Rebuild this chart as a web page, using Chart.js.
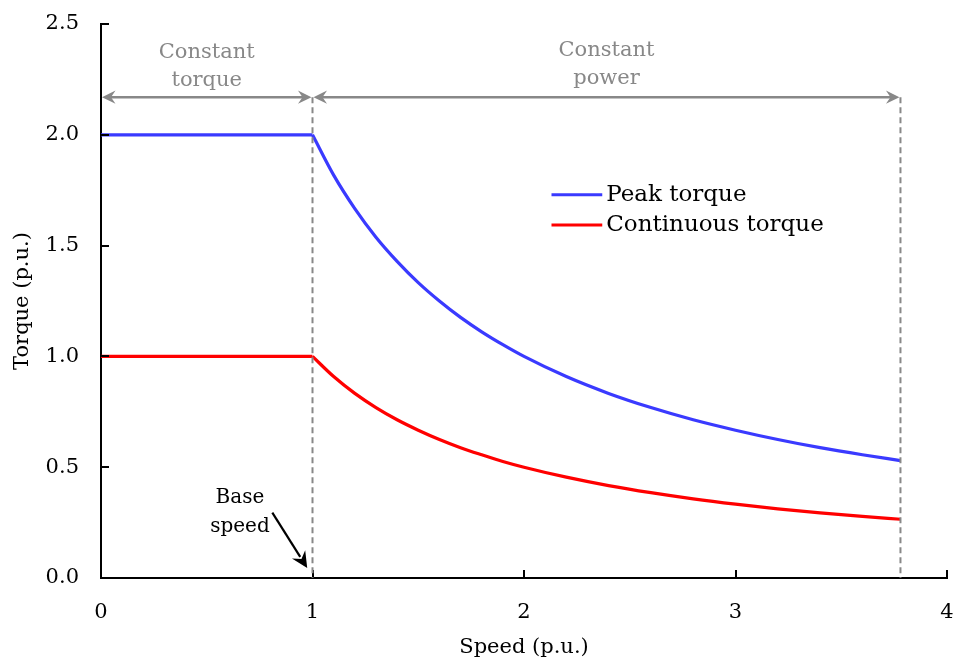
<!DOCTYPE html>
<html>
<head>
<meta charset="utf-8">
<script src="https://cdn.jsdelivr.net/npm/chart.js@4"></script>
<style>
  html, body { margin: 0; padding: 0; background: #fff; }
  #wrap { width: 953px; height: 664px; }
</style>
</head>
<body>
<div id="wrap"><canvas id="c"></canvas></div>
<script>
// values
// constant torque region
const flatSpeed = [0, 1.0]
const peakFlat = [2.0, 2.0]
const contFlat = [1.0, 1.0]
// constant power region
const curveSpeed = [1.0, 1.1, 1.2, 1.3, 1.4, 1.5, 1.6, 1.7, 1.8, 1.9, 2.0, 2.2, 2.4, 2.6, 2.8, 3.0, 3.2, 3.4, 3.6, 3.78]
const peakCurve = [2.0, 1.818, 1.667, 1.538, 1.429, 1.333, 1.25, 1.176, 1.111, 1.053, 1.0, 0.909, 0.833, 0.769, 0.714, 0.667, 0.625, 0.588, 0.556, 0.53]
const contCurve = [1.0, 0.909, 0.833, 0.769, 0.714, 0.667, 0.625, 0.588, 0.556, 0.526, 0.5, 0.455, 0.417, 0.385, 0.357, 0.333, 0.312, 0.294, 0.278, 0.265]
const seriesNames = ['Peak torque', 'Continuous torque']
const seriesColors = ['#3a3aff', '#ff0000']
const xTicks = [0, 1, 2, 3, 4]
const yTicks = [0, 0.5, 1.0, 1.5, 2.0, 2.5]
const baseSpeed = 1.0
const maxSpeed = 3.78

const FONT = "'DejaVu Serif', serif"
const GREY = '#888888'

function toPoints(xs, ys) {
    return xs.map((v, i) => ({x: v, y: ys[i]}))
}

function lineSet(label, color, xs, ys) {
    return {
        label: label,
        data: toPoints(xs, ys),
        borderColor: color,
        borderWidth: 3.2,
        pointRadius: 0,
        cubicInterpolationMode: 'monotone',
        fill: false,
    }
}

function arrowHead(ctx, x1, y1, x2, y2, size) {
    const a = Math.atan2(y2 - y1, x2 - x1)
    ctx.beginPath()
    ctx.moveTo(x2, y2)
    ctx.lineTo(x2 - size * Math.cos(a - 0.45), y2 - size * Math.sin(a - 0.45))
    ctx.lineTo(x2 - size * 0.6 * Math.cos(a), y2 - size * 0.6 * Math.sin(a))
    ctx.lineTo(x2 - size * Math.cos(a + 0.45), y2 - size * Math.sin(a + 0.45))
    ctx.closePath()
    ctx.fill()
}

const annotate = {
    id: 'annotate',
    afterDraw(chart) {
        const {ctx, scales: {x, y}} = chart
        ctx.save()

        // inward ticks
        ctx.strokeStyle = '#000'
        ctx.lineWidth = 2
        xTicks.forEach(v => {
            const px = Math.round(x.getPixelForValue(v))
            ctx.beginPath()
            ctx.moveTo(px, y.bottom)
            ctx.lineTo(px, y.bottom - 8)
            ctx.stroke()
        })
        yTicks.forEach(v => {
            const py = Math.round(y.getPixelForValue(v))
            ctx.beginPath()
            ctx.moveTo(x.left, py)
            ctx.lineTo(x.left + 8, py)
            ctx.stroke()
        })

        // dashed guides
        const arrowY = y.getPixelForValue(2.17)
        const xb = x.getPixelForValue(baseSpeed)
        const xm = x.getPixelForValue(maxSpeed)
        ctx.strokeStyle = GREY
        ctx.lineWidth = 2
        ctx.setLineDash([6, 4])
        ;[xb, xm].forEach(px => {
            ctx.beginPath()
            ctx.moveTo(px, arrowY)
            ctx.lineTo(px, y.bottom)
            ctx.stroke()
        })
        ctx.setLineDash([])

        // region arrows
        const x0 = x.getPixelForValue(0)
        ctx.fillStyle = GREY
        ctx.lineWidth = 2.5
        const spans = [[x0 + 1, xb - 1], [xb + 1, xm - 1]]
        spans.forEach(([a, b]) => {
            ctx.beginPath()
            ctx.moveTo(a + 6, arrowY)
            ctx.lineTo(b - 6, arrowY)
            ctx.stroke()
            arrowHead(ctx, b - 14, arrowY, b, arrowY, 15)
            arrowHead(ctx, a + 14, arrowY, a, arrowY, 15)
        })

        ctx.font = '21px ' + FONT
        ctx.textAlign = 'center'
        ctx.textBaseline = 'middle'
        ctx.fillText('Constant', (x0 + xb) / 2, arrowY - 45)
        ctx.fillText('torque', (x0 + xb) / 2, arrowY - 17)
        ctx.fillText('Constant', (xb + xm) / 2, arrowY - 47)
        ctx.fillText('power', (xb + xm) / 2, arrowY - 19)

        // base speed note
        ctx.fillStyle = '#000'
        ctx.strokeStyle = '#000'
        ctx.font = '20px ' + FONT
        ctx.fillText('Base', x.getPixelForValue(0.657), y.getPixelForValue(0.36))
        ctx.fillText('speed', x.getPixelForValue(0.657), y.getPixelForValue(0.23))
        const ax1 = x.getPixelForValue(0.81), ay1 = y.getPixelForValue(0.295)
        const ax2 = x.getPixelForValue(0.975), ay2 = y.getPixelForValue(0.045)
        ctx.lineWidth = 2.2
        ctx.beginPath()
        ctx.moveTo(ax1, ay1)
        ctx.lineTo(ax1 + (ax2 - ax1) * 0.8, ay1 + (ay2 - ay1) * 0.8)
        ctx.stroke()
        arrowHead(ctx, ax1, ay1, ax2, ay2, 18)

        // legend
        ctx.font = '23px ' + FONT
        ctx.textAlign = 'left'
        const lx1 = x.getPixelForValue(2.13), lx2 = x.getPixelForValue(2.37)
        seriesNames.forEach((name, i) => {
            const ly = y.getPixelForValue(1.73 - i * 0.137)
            ctx.strokeStyle = seriesColors[i]
            ctx.lineWidth = 3
            ctx.beginPath()
            ctx.moveTo(lx1, ly)
            ctx.lineTo(lx2, ly)
            ctx.stroke()
            ctx.fillStyle = '#000'
            ctx.fillText(name, lx2 + 4, ly)
        })

        ctx.restore()
    }
}

new Chart(document.getElementById('c'), {
    type: 'line',
    data: {
        datasets: [
            lineSet(seriesNames[0], seriesColors[0], flatSpeed, peakFlat),
            lineSet(seriesNames[0], seriesColors[0], curveSpeed, peakCurve),
            lineSet(seriesNames[1], seriesColors[1], flatSpeed, contFlat),
            lineSet(seriesNames[1], seriesColors[1], curveSpeed, contCurve),
        ]
    },
    options: {
        responsive: true,
        maintainAspectRatio: false,
        animation: false,
        layout: {padding: {left: 0, right: 6, top: 24, bottom: 0}},
        plugins: {legend: {display: false}, tooltip: {enabled: false}},
        scales: {
            x: {
                type: 'linear',
                min: 0,
                max: 4,
                afterFit: s => { s.height = 86; s.paddingLeft = 0; s.paddingRight = 0 },
                afterBuildTicks: s => { s.ticks = xTicks.map(v => ({value: v})) },
                grid: {display: false, drawTicks: false},
                border: {display: true, color: '#000', width: 2},
                ticks: {
                    padding: 22,
                    color: '#000',
                    font: {family: FONT, size: 21},
                    callback: v => String(v)
                },
                title: {
                    display: true,
                    text: 'Speed (p.u.)',
                    color: '#000',
                    font: {family: FONT, size: 21},
                    padding: {top: 14}
                }
            },
            y: {
                min: 0,
                max: 2.5,
                afterFit: s => { s.width = 101; s.paddingTop = 0; s.paddingBottom = 0 },
                afterBuildTicks: s => { s.ticks = yTicks.map(v => ({value: v})) },
                grid: {display: false, drawTicks: false},
                border: {display: true, color: '#000', width: 2},
                ticks: {
                    padding: 22,
                    color: '#000',
                    font: {family: FONT, size: 21},
                    callback: v => v.toFixed(1)
                },
                title: {
                    display: true,
                    text: 'Torque (p.u.)',
                    color: '#000',
                    font: {family: FONT, size: 21},
                    padding: {top: 10, bottom: 0}
                }
            }
        }
    },
    plugins: [annotate]
})
</script>
</body>
</html>
